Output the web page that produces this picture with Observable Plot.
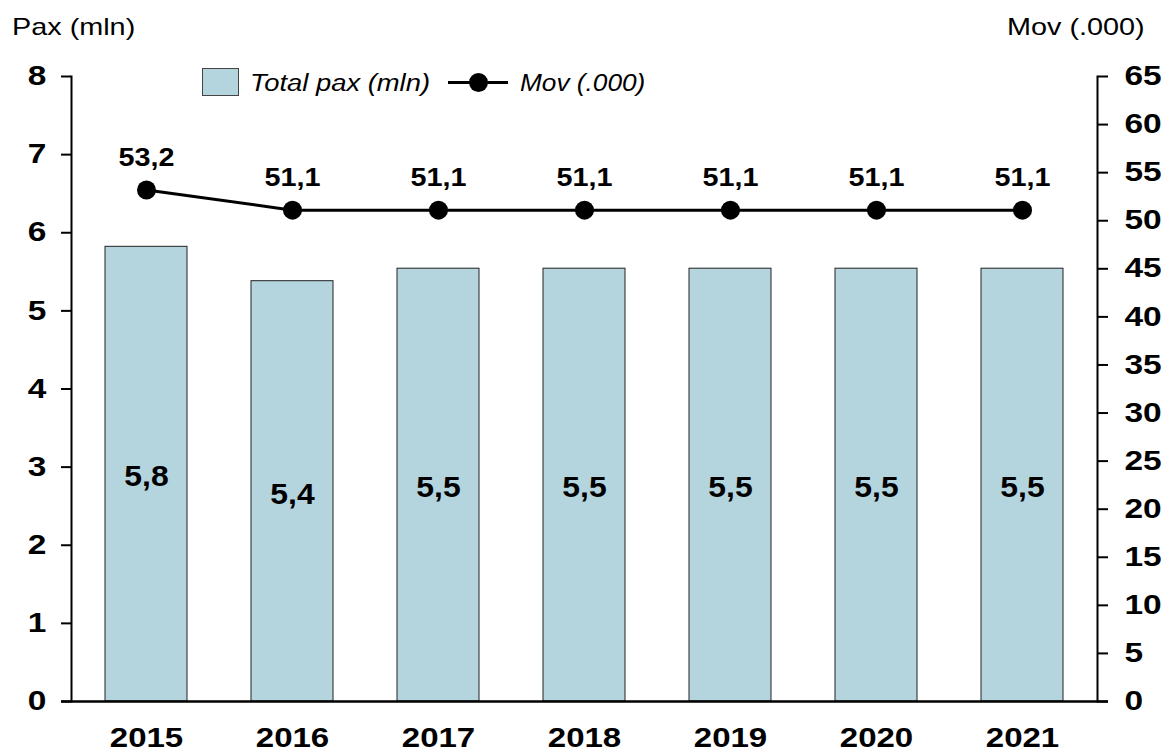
<!DOCTYPE html>
<html><head><meta charset="utf-8">
<script src="https://cdn.jsdelivr.net/npm/d3@7"></script>
<script src="https://cdn.jsdelivr.net/npm/@observablehq/plot@0.6"></script>
<style>
body{margin:0;background:#fff;font-family:"Liberation Sans",Arial,sans-serif;color:#000;}
#wrap{position:relative;width:1162px;height:752px;overflow:hidden;}
#chart svg{display:block;}
.t{position:absolute;white-space:nowrap;line-height:normal;}
</style></head><body>
<div id="wrap">
  <div id="chart"></div>
  <div class="t" id="titleL" style="left:12px;top:13px;font-size:24px;transform-origin:0 50%;transform:scaleX(1.2)">Pax (mln)</div>
  <div class="t" id="titleR" style="right:17px;top:13px;font-size:24px;transform-origin:100% 50%;transform:scaleX(1.2)">Mov (.000)</div>
  <div class="t" id="legBox" style="left:202px;top:68px;width:37px;height:28px;box-sizing:border-box;border:1px solid #444;background:#b4d4de"></div>
  <div class="t" id="legT1" style="left:250px;top:70px;font-size:23px;font-style:italic;transform-origin:0 50%;transform:scaleX(1.19)">Total pax (mln)</div>
  <div class="t" id="legLine" style="left:448px;top:81px;width:60px;height:3px;background:#000"></div>
  <div class="t" id="legDot" style="left:469px;top:73px;width:19px;height:19px;border-radius:50%;background:#000"></div>
  <div class="t" id="legT2" style="left:520px;top:70px;font-size:23px;font-style:italic;transform-origin:0 50%;transform:scaleX(1.14)">Mov (.000)</div>
</div>
<script>
const years = ["2015", "2016", "2017", "2018", "2019", "2020", "2021"];
const paxMln = [5.82, 5.38, 5.54, 5.54, 5.54, 5.54, 5.54];
const movK = [53.2, 51.1, 51.1, 51.1, 51.1, 51.1, 51.1];
const leftTicks = [0, 1, 2, 3, 4, 5, 6, 7, 8];
const rightTicks = [0, 5, 10, 15, 20, 25, 30, 35, 40, 45, 50, 55, 60, 65];
const leftMax = 8, rightMax = 65;

const toLeft = v => v * leftMax / rightMax;
const fmt = v => v.toFixed(1).replace(".", ",");
const data = years.map((y, i) => ({year: y, pax: paxMln[i], mov: movK[i], movY: toLeft(movK[i])}));

const yFont = {fontSize: 27, fontWeight: "bold"};
const chart = Plot.plot({
  width: 1162, height: 752,
  marginLeft: 71, marginRight: 65, marginTop: 76, marginBottom: 51,
  style: {fontFamily: "'Liberation Sans', Arial, sans-serif", background: "white", color: "black", overflow: "visible"},
  x: {domain: years, paddingInner: 0.44, paddingOuter: 0.22, axis: null, label: null},
  y: {domain: [0, leftMax], axis: null, label: null},
  marks: [
    Plot.barY(data, {x: "year", y: "pax", fill: "#b4d4de", stroke: "#222", strokeWidth: 1}),
    Plot.frame({anchor: "left", stroke: "black", strokeWidth: 2}),
    Plot.frame({anchor: "right", stroke: "black", strokeWidth: 2}),
    Plot.ruleY([0], {stroke: "black", strokeWidth: 2.5, insetLeft: -10, insetRight: -11}),
    Plot.axisY(leftTicks, {anchor: "left", label: null, tickSize: 10, tickPadding: 15, strokeWidth: 2, ...yFont, tickFormat: d => String(d)}),
    Plot.axisY(rightTicks.map(toLeft), {anchor: "right", label: null, tickSize: 10, tickPadding: 17, strokeWidth: 2, ...yFont, tickFormat: d => String(Math.round(d * rightMax / leftMax))}),
    Plot.axisX({anchor: "bottom", label: null, tickSize: 0, tickPadding: 26, fontSize: 28, fontWeight: "bold"}),
    Plot.line(data, {x: "year", y: "movY", stroke: "black", strokeWidth: 3}),
    Plot.dot(data, {x: "year", y: "movY", r: 9.5, fill: "black"}),
    Plot.text(data, {x: "year", y: "movY", text: d => fmt(d.mov), dy: -32, fontSize: 25, fontWeight: "bold"}),
    Plot.text(data, {x: "year", y: d => d.pax / 2, text: d => fmt(d.pax), dy: 3, fontSize: 29, fontWeight: "bold"})
  ]
});
document.getElementById("chart").appendChild(chart);

// horizontally widen the bold labels about their anchor points (the reference's text is wide)
const STRETCH = {27: 1.24, 28: 1.18, 25: 1.15, 29: 1.1};
chart.querySelectorAll("text").forEach(el => {
  const s = STRETCH[Math.round(parseFloat(getComputedStyle(el).fontSize))] || 1.2;
  const t = el.getAttribute("transform") || "";
  const xa = el.getAttribute("x");
  let tr = "";
  if (xa && !/em$/.test(xa) && parseFloat(xa) !== 0) { tr = `translate(${parseFloat(xa)},0) `; el.removeAttribute("x"); }
  el.setAttribute("transform", `${t} ${tr}scale(${s},1)`.trim());
});
</script>
</body></html>
